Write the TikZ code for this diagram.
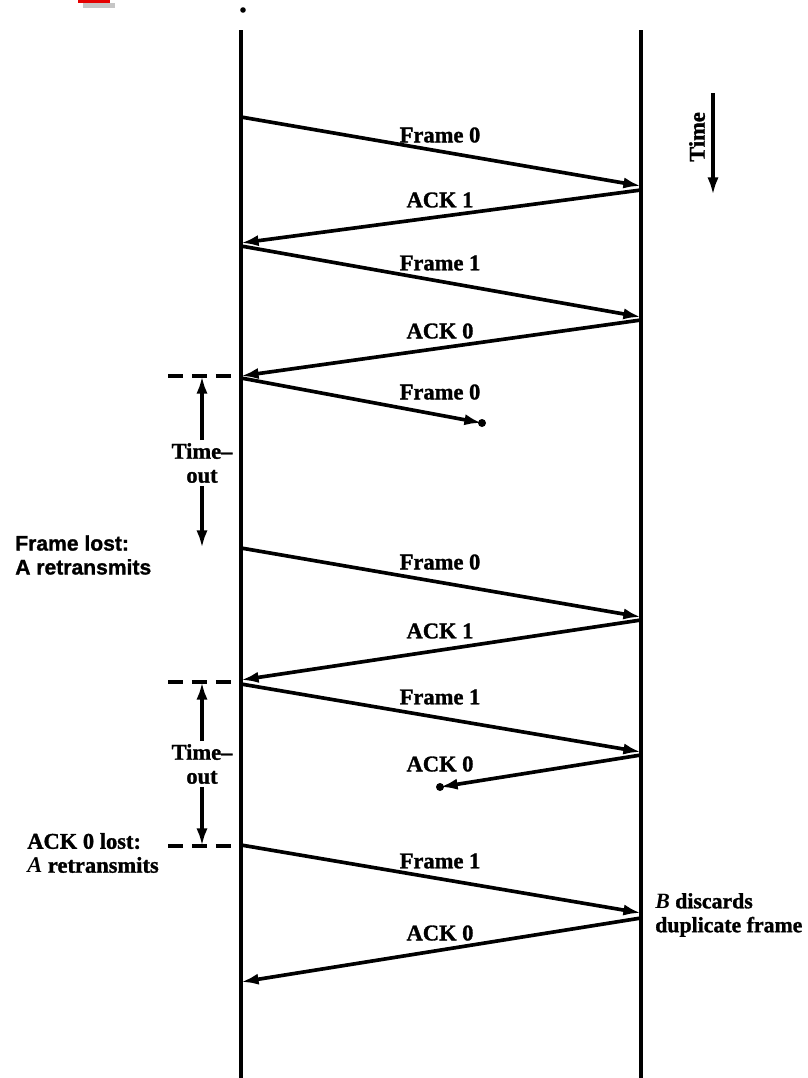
\documentclass[tikz,border=0pt]{standalone}
\usepackage{fontspec}
\setmainfont{Liberation Serif}[BoldFeatures={FakeBold=1.3}]
\setsansfont{Liberation Sans}[BoldFeatures={FakeBold=1.3}]
\usetikzlibrary{arrows.meta}
\tikzset{
  zeitlinie/.style={line width=3.4pt,line cap=butt},
  msg/.style={-{Latex[length=4.4mm,width=2.8mm]},line width=2.6pt},
  strich/.style={line width=3pt,dash pattern=on 10.6pt off 6.4pt},
  lbl/.style={inner sep=1pt},
  notiz/.style={align=left,anchor=west,inner sep=0pt},
}
\begin{document}
\begin{tikzpicture}[x=0.025cm,y=-0.025cm,font=\bfseries\fontsize{16}{17}\selectfont]
  \useasboundingbox (0,0) rectangle (808,1078);
  % ===== Randmarke oben links =====
  \fill[gray!45] (83,3) rectangle (115,8);
  \fill[red!90!black] (78,0) rectangle (110,3);
  \fill (243,10) circle (0.07cm);
  % ===== Zeitlinien A und B =====
  \coordinate (Aoben) at (241,30);  \coordinate (Aunten) at (241,1078);
  \coordinate (Boben) at (641,30);  \coordinate (Bunten) at (641,1078);
  \draw[zeitlinie] (Aoben)--(Aunten);
  \draw[zeitlinie] (Boben)--(Bunten);
  % ===== Punkte auf den Zeitlinien =====
  \foreach \n/\x/\y in {a1/241/117, b1/641/186, b2/641/190, a2/241/243,
                        a3/241/246, b3/641/317, b4/641/320, a4/241/376,
                        a5/241/378, v1/482/423, a6/241/548, b6/641/617,
                        b7/641/620, a7/241/680, a8/241/684, b8/641/752,
                        b9/641/755, v2/440/787, a10/241/845, b10/641/913,
                        b11/641/918, a11/241/982}{
    \coordinate (\n) at (\x,\y);}
  % ===== Rahmen und Quittungen =====
  \foreach \s/\e/\txt/\ly in {a1/b1/{Frame 0}/135, b2/a2/{ACK 1}/200,
                              a3/b3/{Frame 1}/263, b4/a4/{ACK 0}/331,
                              a5/v1/{Frame 0}/392, a6/b6/{Frame 0}/562,
                              b7/a7/{ACK 1}/631, a8/b8/{Frame 1}/697,
                              b9/v2/{ACK 0}/764, a10/b10/{Frame 1}/861,
                              b11/a11/{ACK 0}/933}{
    \draw[msg] (\s)--(\e);
    \node[lbl] (t\s) at (440,\ly) {\txt};}
  % verlorene Nachrichten
  \fill (v1) circle (0.1cm);
  \fill (v2) circle (0.1cm);
  % ===== Timeout-Markierungen =====
  \coordinate (d1) at (168,376);
  \coordinate (d2) at (168,682);
  \coordinate (d3) at (168,846);
  \foreach \d in {d1,d2,d3}{
    \draw[strich] (\d)--(\d -| Aoben);}
  \node[align=center,inner sep=2pt] (to1) at (202,463) {Time--\\out};
  \draw[msg] (to1.north)--(to1.north |- d1);
  \draw[msg] (to1.south)--(to1.south |- a6);
  \node[align=center,inner sep=2pt] (to2) at (202,764) {Time--\\out};
  \draw[msg] (to2.north)--(to2.north |- d2);
  \draw[msg] (to2.south)--(to2.south |- d3);
  % ===== Anmerkungen =====
  \node[notiz,font=\sffamily\bfseries\fontsize{15}{17}\selectfont] (n1) at (15,555) {Frame lost:\\A retransmits};
  \node[notiz] (n2) at (27,853) {ACK 0 lost:\\\textit{A} retransmits};
  \node[notiz,font=\bfseries\fontsize{15.5}{17}\selectfont] (n3) at (655,915) {\textit{B} discards\\duplicate frame};
  % ===== Zeitachse =====
  \node[rotate=90,inner sep=0pt] (zeit) at (697,137) {Time};
  \coordinate (z1) at (713,93);
  \coordinate (z2) at (713,195);
  \draw[msg] (z1)--(z2);
\end{tikzpicture}
\end{document}
